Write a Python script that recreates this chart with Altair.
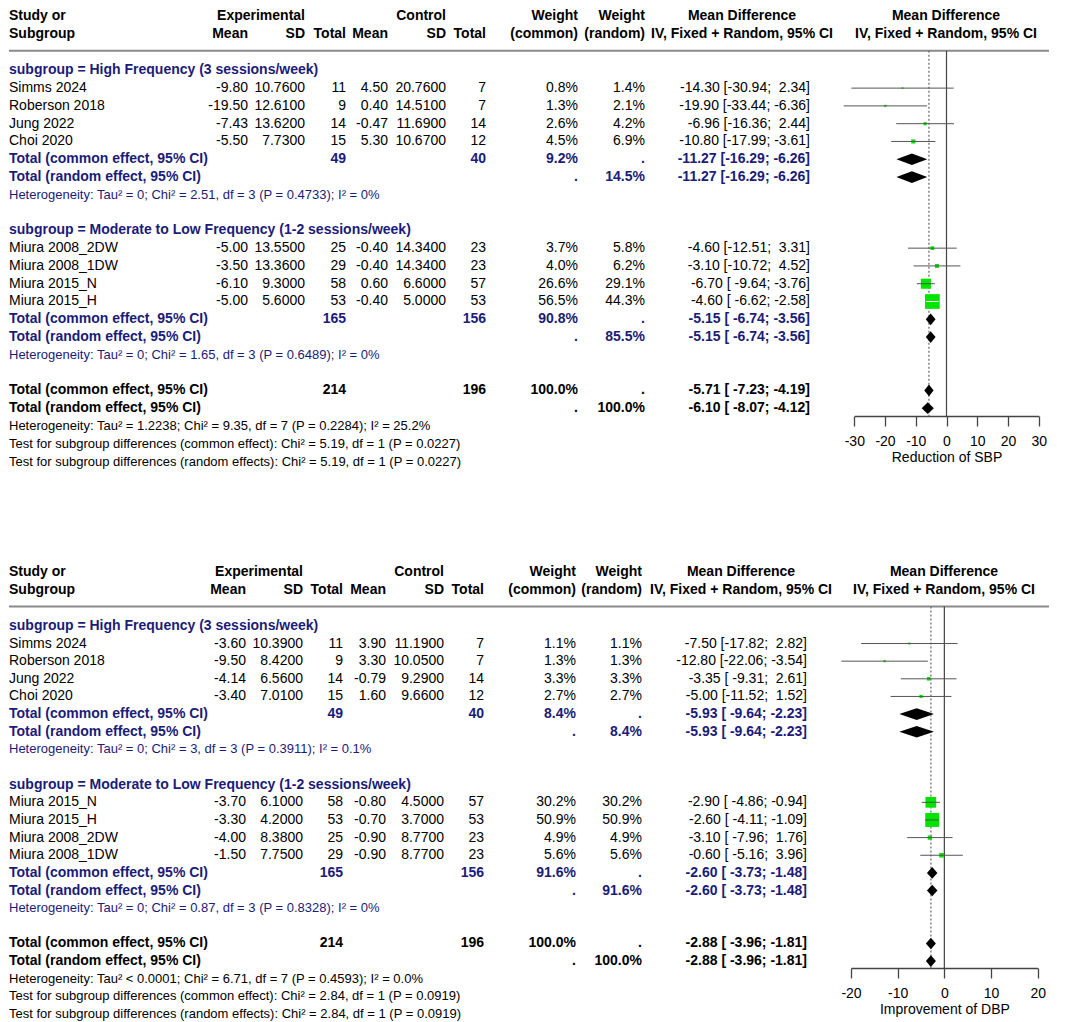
import math
import altair as alt
import pandas as pd

FONT = "Liberation Sans"
NAVY = "#1B1B78"
GREEN = "#00E400"

# ---------------- headers ----------------
HDR1 = ["Study or", "Experimental", "Control", "Weight", "Weight", "Mean Difference", "Mean Difference"]
HDR2 = ["Subgroup", "Mean", "SD", "Total", "Mean", "SD", "Total", "(common)", "(random)",
        "IV, Fixed + Random, 95% CI", "IV, Fixed + Random, 95% CI"]
TOTAL_LABELS = ["Total (common effect, 95% CI)", "Total (random effect, 95% CI)"]
SUB_TITLES = ["subgroup = High Frequency (3 sessions/week)",
              "subgroup = Moderate to Low Frequency (1-2 sessions/week)"]

# ---------------- Panel A : SBP ----------------
A1_names = ["Simms 2024", "Roberson 2018", "Jung 2022", "Choi 2020"]
A1_exp_mean = [-9.80, -19.50, -7.43, -5.50]
A1_exp_sd = [10.76, 12.61, 13.62, 7.73]
A1_exp_n = [11, 9, 14, 15]
A1_ctl_mean = [4.50, 0.40, -0.47, 5.30]
A1_ctl_sd = [20.76, 14.51, 11.69, 10.67]
A1_ctl_n = [7, 7, 14, 12]
A1_w_common = [0.8, 1.3, 2.6, 4.5]
A1_w_random = [1.4, 2.1, 4.2, 6.9]
A1_md = [-14.30, -19.90, -6.96, -10.80]
A1_lo = [-30.94, -33.44, -16.36, -17.99]
A1_hi = [2.34, -6.36, 2.44, -3.61]
A1_tot_n = [49, 40]
A1_tot_w = [9.2, 14.5]
A1_common = [-11.27, -16.29, -6.26]
A1_random = [-11.27, -16.29, -6.26]
A1_het = "Heterogeneity: Tau² = 0; Chi² = 2.51, df = 3 (P = 0.4733); I² = 0%"

A2_names = ["Miura 2008_2DW", "Miura 2008_1DW", "Miura 2015_N", "Miura 2015_H"]
A2_exp_mean = [-5.00, -3.50, -6.10, -5.00]
A2_exp_sd = [13.55, 13.36, 9.30, 5.60]
A2_exp_n = [25, 29, 58, 53]
A2_ctl_mean = [-0.40, -0.40, 0.60, -0.40]
A2_ctl_sd = [14.34, 14.34, 6.60, 5.00]
A2_ctl_n = [23, 23, 57, 53]
A2_w_common = [3.7, 4.0, 26.6, 56.5]
A2_w_random = [5.8, 6.2, 29.1, 44.3]
A2_md = [-4.60, -3.10, -6.70, -4.60]
A2_lo = [-12.51, -10.72, -9.64, -6.62]
A2_hi = [3.31, 4.52, -3.76, -2.58]
A2_tot_n = [165, 156]
A2_tot_w = [90.8, 85.5]
A2_common = [-5.15, -6.74, -3.56]
A2_random = [-5.15, -6.74, -3.56]
A2_het = "Heterogeneity: Tau² = 0; Chi² = 1.65, df = 3 (P = 0.6489); I² = 0%"

A_all_n = [214, 196]
A_all_w = [100.0, 100.0]
A_all_common = [-5.71, -7.23, -4.19]
A_all_random = [-6.10, -8.07, -4.12]
A_notes = ["Heterogeneity: Tau² = 1.2238; Chi² = 9.35, df = 7 (P = 0.2284); I² = 25.2%",
           "Test for subgroup differences (common effect): Chi² = 5.19, df = 1 (P = 0.0227)",
           "Test for subgroup differences (random effects): Chi² = 5.19, df = 1 (P = 0.0227)"]
A_ticks = [-30, -20, -10, 0, 10, 20, 30]
A_axis_title = "Reduction of SBP"

# ---------------- Panel B : DBP ----------------
B1_names = ["Simms 2024", "Roberson 2018", "Jung 2022", "Choi 2020"]
B1_exp_mean = [-3.60, -9.50, -4.14, -3.40]
B1_exp_sd = [10.39, 8.42, 6.56, 7.01]
B1_exp_n = [11, 9, 14, 15]
B1_ctl_mean = [3.90, 3.30, -0.79, 1.60]
B1_ctl_sd = [11.19, 10.05, 9.29, 9.66]
B1_ctl_n = [7, 7, 14, 12]
B1_w_common = [1.1, 1.3, 3.3, 2.7]
B1_w_random = [1.1, 1.3, 3.3, 2.7]
B1_md = [-7.50, -12.80, -3.35, -5.00]
B1_lo = [-17.82, -22.06, -9.31, -11.52]
B1_hi = [2.82, -3.54, 2.61, 1.52]
B1_tot_n = [49, 40]
B1_tot_w = [8.4, 8.4]
B1_common = [-5.93, -9.64, -2.23]
B1_random = [-5.93, -9.64, -2.23]
B1_het = "Heterogeneity: Tau² = 0; Chi² = 3, df = 3 (P = 0.3911); I² = 0.1%"

B2_names = ["Miura 2015_N", "Miura 2015_H", "Miura 2008_2DW", "Miura 2008_1DW"]
B2_exp_mean = [-3.70, -3.30, -4.00, -1.50]
B2_exp_sd = [6.10, 4.20, 8.38, 7.75]
B2_exp_n = [58, 53, 25, 29]
B2_ctl_mean = [-0.80, -0.70, -0.90, -0.90]
B2_ctl_sd = [4.50, 3.70, 8.77, 8.77]
B2_ctl_n = [57, 53, 23, 23]
B2_w_common = [30.2, 50.9, 4.9, 5.6]
B2_w_random = [30.2, 50.9, 4.9, 5.6]
B2_md = [-2.90, -2.60, -3.10, -0.60]
B2_lo = [-4.86, -4.11, -7.96, -5.16]
B2_hi = [-0.94, -1.09, 1.76, 3.96]
B2_tot_n = [165, 156]
B2_tot_w = [91.6, 91.6]
B2_common = [-2.60, -3.73, -1.48]
B2_random = [-2.60, -3.73, -1.48]
B2_het = "Heterogeneity: Tau² = 0; Chi² = 0.87, df = 3 (P = 0.8328); I² = 0%"

B_all_n = [214, 196]
B_all_w = [100.0, 100.0]
B_all_common = [-2.88, -3.96, -1.81]
B_all_random = [-2.88, -3.96, -1.81]
B_notes = ["Heterogeneity: Tau² < 0.0001; Chi² = 6.71, df = 7 (P = 0.4593); I² = 0.0%",
           "Test for subgroup differences (common effect): Chi² = 2.84, df = 1 (P = 0.0919)",
           "Test for subgroup differences (random effects): Chi² = 2.84, df = 1 (P = 0.0919)"]
B_ticks = [-20, -10, 0, 10, 20]
B_axis_title = "Improvement of DBP"


def group(title, names, em, esd, en, cm, csd, cn, wc, wr, md, lo, hi, tn, tw, com, ran, het):
    return dict(title=title, names=names, em=em, esd=esd, en=en, cm=cm, csd=csd, cn=cn,
                wc=wc, wr=wr, md=md, lo=lo, hi=hi, tn=tn, tw=tw, com=com, ran=ran, het=het)


PANEL_A = dict(
    groups=[group(SUB_TITLES[0], A1_names, A1_exp_mean, A1_exp_sd, A1_exp_n, A1_ctl_mean, A1_ctl_sd,
                  A1_ctl_n, A1_w_common, A1_w_random, A1_md, A1_lo, A1_hi, A1_tot_n, A1_tot_w,
                  A1_common, A1_random, A1_het),
            group(SUB_TITLES[1], A2_names, A2_exp_mean, A2_exp_sd, A2_exp_n, A2_ctl_mean, A2_ctl_sd,
                  A2_ctl_n, A2_w_common, A2_w_random, A2_md, A2_lo, A2_hi, A2_tot_n, A2_tot_w,
                  A2_common, A2_random, A2_het)],
    all_n=A_all_n, all_w=A_all_w, all_com=A_all_common, all_ran=A_all_random, notes=A_notes,
    ticks=A_ticks, title=A_axis_title)

PANEL_B = dict(
    groups=[group(SUB_TITLES[0], B1_names, B1_exp_mean, B1_exp_sd, B1_exp_n, B1_ctl_mean, B1_ctl_sd,
                  B1_ctl_n, B1_w_common, B1_w_random, B1_md, B1_lo, B1_hi, B1_tot_n, B1_tot_w,
                  B1_common, B1_random, B1_het),
            group(SUB_TITLES[1], B2_names, B2_exp_mean, B2_exp_sd, B2_exp_n, B2_ctl_mean, B2_ctl_sd,
                  B2_ctl_n, B2_w_common, B2_w_random, B2_md, B2_lo, B2_hi, B2_tot_n, B2_tot_w,
                  B2_common, B2_random, B2_het)],
    all_n=B_all_n, all_w=B_all_w, all_com=B_all_common, all_ran=B_all_random, notes=B_notes,
    ticks=B_ticks, title=B_axis_title)

# ---------------- layout (pixels / styles only) ----------------
LAYOUT_A = dict(cols=dict(name=0, em=239, esd=296, en=337, cm=379, csd=437, cn=477, wc=569, wr=636,
                          md=801, hmd=733, hplot=937),
                xrange=[845.3, 1029.7], r_top=-3.45, r_axis=19.44, height=407)
LAYOUT_B = dict(cols=dict(name=0, em=237, esd=294, en=334, cm=377, csd=435, cn=475, wc=567, wr=633,
                          md=798, hmd=732, hplot=935),
                xrange=[842.0, 1028.7], r_top=-3.45, r_axis=19.39, height=403)
WIDTH = 1042
LINE_END = 1040
ALIGN = dict(name="left", hmd="center", hplot="center")
STYLES = {
    "hdr": dict(fontWeight="bold", color="black", fontSize=14),
    "plain": dict(fontWeight="normal", color="black", fontSize=14),
    "bold": dict(fontWeight="bold", color="black", fontSize=14),
    "boldnavy": dict(fontWeight="bold", color=NAVY, fontSize=14),
    "navysmall": dict(fontWeight="normal", color=NAVY, fontSize=13),
    "small": dict(fontWeight="normal", color="black", fontSize=13),
}
SQ_AREA_PER_PCT = 3.82   # square area (px^2) per 1% weight
DIAMOND_HALF = 0.33      # diamond half-height in rows
HDR_ROWS = [-3.05, -2.05]
LINE_ROW = -1.1


def fmt_ci(m, lo, hi):
    return f"{m:.2f} [{lo:6.2f}; {hi:5.2f}]".replace(" ", "\u00a0")


def build_panel(P, L):
    cells = []

    def add(row, col, text, style):
        cells.append(dict(row=row, col=col, text=text, style=style))

    h1, h2 = HDR_ROWS
    for col, t in zip(["name", "esd", "csd", "wc", "wr", "hmd", "hplot"], HDR1):
        add(h1, col, t, "hdr")
    for col, t in zip(["name", "em", "esd", "en", "cm", "csd", "cn", "wc", "wr", "hmd", "hplot"], HDR2):
        add(h2, col, t, "hdr")

    studies, diamonds = [], []
    r = 0
    for g in P["groups"]:
        add(r, "name", g["title"], "boldnavy")
        r += 1
        for i, nm in enumerate(g["names"]):
            add(r, "name", nm, "plain")
            add(r, "em", f"{g['em'][i]:.2f}", "plain")
            add(r, "esd", f"{g['esd'][i]:.4f}", "plain")
            add(r, "en", str(g["en"][i]), "plain")
            add(r, "cm", f"{g['cm'][i]:.2f}", "plain")
            add(r, "csd", f"{g['csd'][i]:.4f}", "plain")
            add(r, "cn", str(g["cn"][i]), "plain")
            add(r, "wc", f"{g['wc'][i]:.1f}%", "plain")
            add(r, "wr", f"{g['wr'][i]:.1f}%", "plain")
            add(r, "md", fmt_ci(g["md"][i], g["lo"][i], g["hi"][i]), "plain")
            studies.append(dict(row=r, md=g["md"][i], lo=g["lo"][i], hi=g["hi"][i], w=g["wc"][i]))
            r += 1
        add(r, "name", TOTAL_LABELS[0], "boldnavy")
        add(r, "en", str(g["tn"][0]), "boldnavy")
        add(r, "cn", str(g["tn"][1]), "boldnavy")
        add(r, "wc", f"{g['tw'][0]:.1f}%", "boldnavy")
        add(r, "wr", ".", "boldnavy")
        add(r, "md", fmt_ci(*g["com"]), "boldnavy")
        diamonds.append((r, *g["com"]))
        r += 1
        add(r, "name", TOTAL_LABELS[1], "boldnavy")
        add(r, "wc", ".", "boldnavy")
        add(r, "wr", f"{g['tw'][1]:.1f}%", "boldnavy")
        add(r, "md", fmt_ci(*g["ran"]), "boldnavy")
        diamonds.append((r, *g["ran"]))
        r += 1
        add(r, "name", g["het"], "navysmall")
        r += 2
    add(r, "name", TOTAL_LABELS[0], "bold")
    add(r, "en", str(P["all_n"][0]), "bold")
    add(r, "cn", str(P["all_n"][1]), "bold")
    add(r, "wc", f"{P['all_w'][0]:.1f}%", "bold")
    add(r, "wr", ".", "bold")
    add(r, "md", fmt_ci(*P["all_com"]), "bold")
    diamonds.append((r, *P["all_com"]))
    r += 1
    add(r, "name", TOTAL_LABELS[1], "bold")
    add(r, "wc", ".", "bold")
    add(r, "wr", f"{P['all_w'][1]:.1f}%", "bold")
    add(r, "md", fmt_ci(*P["all_ran"]), "bold")
    diamonds.append((r, *P["all_ran"]))
    r += 1
    for note in P["notes"]:
        add(r, "name", note, "small")
        r += 1

    cells = pd.DataFrame(cells)

    xdom = [min(P["ticks"]), max(P["ticks"])]
    ppu = (L["xrange"][1] - L["xrange"][0]) / (xdom[1] - xdom[0])
    ys = alt.Scale(domain=[L["r_top"], L["r_axis"]], reverse=True, nice=False, zero=False)
    xs = alt.Scale(domain=xdom, range=L["xrange"], nice=False, zero=False)
    axis = alt.Axis(values=P["ticks"], tickSize=10, labelFontSize=14, labelPadding=8,
                    titleFontSize=14, titleFontWeight="normal", titlePadding=2, grid=False,
                    domainColor="#444444", tickColor="#444444", domainWidth=1.3, tickWidth=1.3,
                    labelColor="black", titleColor="black", labelFont=FONT, titleFont=FONT,
                    labelFlush=False, labelOverlap=False, labelBound=False,
                    labelExpr="datum.value + ''")

    def Y(f):
        return alt.Y(f"{f}:Q", scale=ys, axis=None)

    def X(f):
        return alt.X(f"{f}:Q", scale=xs, axis=axis, title=P["title"])

    sdf = pd.DataFrame(studies)
    sdf["lc"] = [
        "white" if (hi - lo) * ppu < math.sqrt(SQ_AREA_PER_PCT * w) else "#555555"
        for lo, hi, w in zip(sdf["lo"], sdf["hi"], sdf["w"])
    ]

    drows = []
    for k, (row, m, lo, hi) in enumerate(diamonds):
        drows += [dict(id=k, x=lo, y=row, y2=row),
                  dict(id=k, x=m, y=row - DIAMOND_HALF, y2=row + DIAMOND_HALF),
                  dict(id=k, x=hi, y=row, y2=row)]
    ddf = pd.DataFrame(drows)

    vdf = pd.DataFrame(dict(x=[0.0, P["all_com"][0]], y=[LINE_ROW] * 2, y2=[L["r_axis"]] * 2,
                            kind=["zero", "common"]))
    hdf = pd.DataFrame(dict(row=[LINE_ROW]))

    layers = []
    layers.append(alt.Chart(hdf).mark_rule(color="#8a8a8a", strokeWidth=2).encode(
        x=alt.value(0), x2=alt.value(LINE_END), y=Y("row")))
    layers.append(alt.Chart(vdf[vdf.kind == "zero"]).mark_rule(color="#444444", strokeWidth=1.2).encode(
        x=X("x"), y=Y("y"), y2="y2:Q"))
    layers.append(alt.Chart(vdf[vdf.kind == "common"]).mark_rule(
        color="#666666", strokeWidth=1.2, strokeDash=[2, 2]).encode(
        x=X("x"), y=Y("y"), y2="y2:Q"))
    layers.append(alt.Chart(sdf).mark_square(filled=True, color=GREEN, opacity=1).encode(
        x=X("md"),
        y=Y("row"),
        size=alt.Size("w:Q", scale=alt.Scale(domain=[0, 100], range=[0, SQ_AREA_PER_PCT * 100]),
                      legend=None)))
    layers.append(alt.Chart(sdf).mark_rule(strokeWidth=1).encode(
        x=X("lo"), x2="hi:Q", y=Y("row"),
        color=alt.Color("lc:N", scale=None)))
    layers.append(alt.Chart(ddf).mark_area(color="black", orient="vertical", opacity=1).encode(
        x=X("x"), y=Y("y"), y2="y2:Q", detail="id:N"))

    for (col, style), sub in cells.groupby(["col", "style"]):
        st = STYLES[style]
        layers.append(alt.Chart(sub).mark_text(
            align=ALIGN.get(col, "right"), baseline="middle", font=FONT,
            fontWeight=st["fontWeight"], fontSize=st["fontSize"], color=st["color"]).encode(
            x=alt.value(L["cols"][col]), y=Y("row"), text="text:N"))

    return alt.layer(*layers).properties(width=WIDTH, height=L["height"])


top = build_panel(PANEL_A, LAYOUT_A)
bottom = build_panel(PANEL_B, LAYOUT_B)

chart = alt.vconcat(top, bottom, spacing=96).properties(
    padding={"left": 0, "top": 1, "right": 0, "bottom": 0}
).configure_view(stroke=None)
chart.save("out.html", embed_options={"renderer": "svg", "actions": False})
